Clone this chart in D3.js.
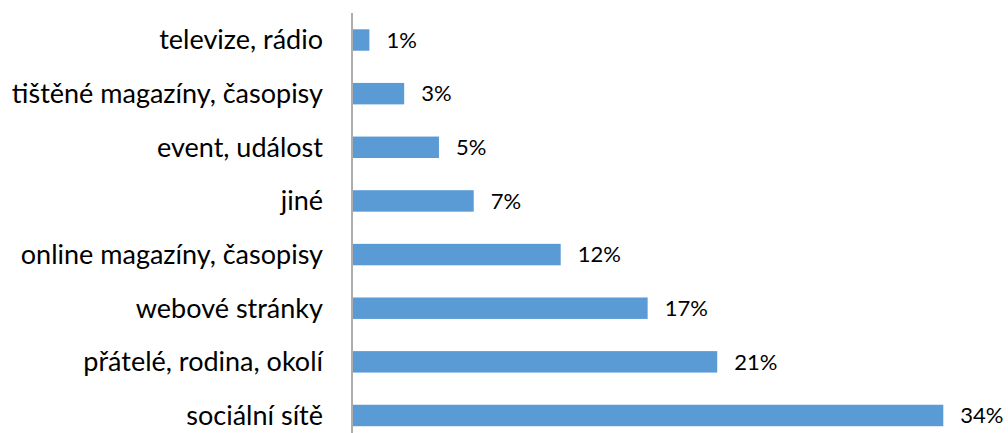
<!DOCTYPE html>
<html>
<head>
<meta charset="utf-8">
<script src="https://cdn.jsdelivr.net/npm/d3@7"></script>
<style>
  html, body { margin: 0; padding: 0; background: #fff; }
  svg { display: block; }
  text { font-family: Lato, "Open Sans", sans-serif; fill: #000; }
</style>
</head>
<body>
<svg id="chart" width="1008" height="433"></svg>
<script>
// Source of information, share of respondents (%)
const categories = [
  "televize, rádio",
  "tištěné magazíny, časopisy",
  "event, událost",
  "jiné",
  "online magazíny, časopisy",
  "webové stránky",
  "přátelé, rodina, okolí",
  "sociální sítě"
];
const values = [1, 3, 5, 7, 12, 17, 21, 34];

const svg = d3.select("#chart");
const x0 = 352;

const x = d3.scaleLinear().domain([0, 34]).range([x0, 943.3]);
const y = d3.scaleBand().domain(categories).range([13.2, 442.3]).paddingInner(0.6).paddingOuter(0.3);

// bars
svg.append("g").selectAll("rect")
  .data(values)
  .join("rect")
  .attr("x", x(0))
  .attr("y", (d, i) => y(categories[i]))
  .attr("width", d => x(d) - x(0))
  .attr("height", y.bandwidth())
  .attr("fill", "#5B9BD5");

// value labels
svg.append("g").selectAll("text")
  .data(values)
  .join("text")
  .attr("x", d => x(d) + 17)
  .attr("y", (d, i) => y(categories[i]) + y.bandwidth() / 2)
  .attr("dy", "0.35em")
  .attr("font-size", 22)
  .text(d => d + "%");

// category axis
const axis = svg.append("g")
  .attr("transform", `translate(${x0},0)`)
  .call(d3.axisLeft(y).tickSize(0).tickPadding(29));
axis.select(".domain").attr("stroke", "#ADADAD").attr("stroke-width", 2)
  .attr("d", "M0,13V442");
axis.selectAll(".tick text")
  .attr("font-family", "Lato, 'Open Sans', sans-serif")
  .attr("font-size", 27)
  .attr("fill", "#000")
  .attr("dy", "0.35em");
</script>
</body>
</html>
